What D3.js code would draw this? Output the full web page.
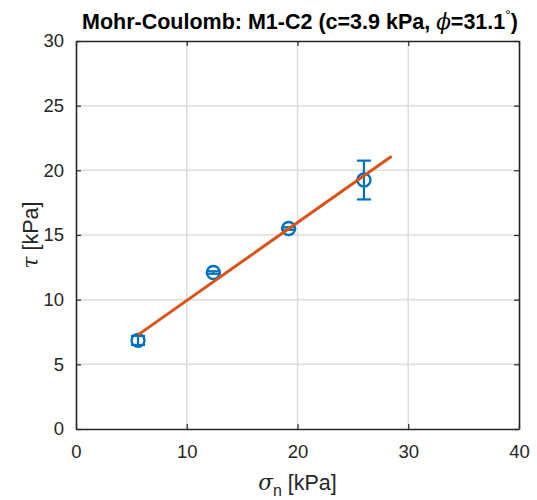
<!DOCTYPE html>
<html>
<head>
<meta charset="utf-8">
<script src="https://cdn.jsdelivr.net/npm/d3@7"></script>
<style>
  body { margin: 0; background: #fff; }
  text { font-family: "Liberation Sans", Arial, sans-serif; }
</style>
</head>
<body>
<div id="vis"></div>
<script>
// measured points
const sigmaN = [5.6, 12.4, 19.2, 26.0];
const tau = [6.85, 12.1, 15.5, 19.25];
const tauErr = [0.35, 0.1, 0.1, 1.5];

// fitted line c + sigma * tan(phi)
const cohesion = 3.9;
const phiDeg = 31.1;
const fitX = [5.6, 28.5];

const xTicks = [0, 10, 20, 30, 40];
const yTicks = [0, 5, 10, 15, 20, 25, 30];

const W = 537, H = 500;
const margin = {top: 41, right: 18, bottom: 71, left: 76};
const width = W - margin.left - margin.right;
const height = H - margin.top - margin.bottom;

const svg = d3.select("#vis").append("svg")
    .attr("width", W)
    .attr("height", H);

const g = svg.append("g").attr("transform", `translate(${margin.left},${margin.top})`);

const x = d3.scaleLinear().domain([0, 40]).range([0, width]);
const y = d3.scaleLinear().domain([0, 30]).range([height, 0]);

// grid
g.append("g").selectAll("line").data(xTicks.slice(1, -1)).join("line")
    .attr("x1", d => x(d)).attr("x2", d => x(d))
    .attr("y1", 0).attr("y2", height)
    .attr("stroke", "#dedede").attr("stroke-width", 1.5);
g.append("g").selectAll("line").data(yTicks.slice(1, -1)).join("line")
    .attr("y1", d => y(d)).attr("y2", d => y(d))
    .attr("x1", 0).attr("x2", width)
    .attr("stroke", "#dedede").attr("stroke-width", 1.5);

// axes with inward ticks
const xAxis = g.append("g").attr("transform", `translate(0,${height})`)
    .call(d3.axisBottom(x).tickValues(xTicks).tickSizeInner(-5).tickSizeOuter(0).tickPadding(16));
const yAxis = g.append("g")
    .call(d3.axisLeft(y).tickValues(yTicks).tickSizeInner(-5).tickSizeOuter(0).tickPadding(12));
const xTop = g.append("g")
    .call(d3.axisTop(x).tickValues(xTicks).tickSizeInner(-5).tickSizeOuter(0).tickFormat(""));
const yRight = g.append("g").attr("transform", `translate(${width},0)`)
    .call(d3.axisRight(y).tickValues(yTicks).tickSizeInner(-5).tickSizeOuter(0).tickFormat(""));

[xAxis, yAxis, xTop, yRight].forEach(a => {
    a.select(".domain").attr("stroke", "#262626").attr("stroke-width", 1.6);
    a.selectAll(".tick line").attr("stroke", "#262626").attr("stroke-width", 1.2);
    a.selectAll(".tick text").attr("fill", "#262626").style("font-size", "18.5px")
        .style("font-family", "'Liberation Sans', Arial, sans-serif");
});
xAxis.selectAll(".tick text").attr("dy", "0.71em");

// error bars
const blue = "#0072BD";
const capW = 7;
const eb = g.append("g").attr("stroke", blue).attr("stroke-width", 2.2);
sigmaN.forEach((s, i) => {
    const lo = tau[i] - tauErr[i], hi = tau[i] + tauErr[i];
    eb.append("line").attr("x1", x(s)).attr("x2", x(s)).attr("y1", y(lo)).attr("y2", y(hi));
    eb.append("line").attr("x1", x(s) - capW).attr("x2", x(s) + capW).attr("y1", y(lo)).attr("y2", y(lo));
    eb.append("line").attr("x1", x(s) - capW).attr("x2", x(s) + capW).attr("y1", y(hi)).attr("y2", y(hi));
});

// markers
g.append("g").selectAll("circle").data(sigmaN).join("circle")
    .attr("cx", d => x(d))
    .attr("cy", (d, i) => y(tau[i]))
    .attr("r", 6.5)
    .attr("fill", "none")
    .attr("stroke", blue)
    .attr("stroke-width", 2.4);

// fit line
const tanPhi = Math.tan(phiDeg * Math.PI / 180);
g.append("path")
    .datum(fitX)
    .attr("d", d3.line().x(d => x(d)).y(d => y(cohesion + d * tanPhi)))
    .attr("fill", "none")
    .attr("stroke", "#D95319")
    .attr("stroke-width", 3);

// title
const title = svg.append("text")
    .attr("x", 300)
    .attr("y", 29)
    .attr("text-anchor", "middle")
    .attr("font-weight", "bold")
    .attr("font-size", 21.5)
    .attr("fill", "#000");
title.append("tspan").text(`Mohr-Coulomb: M1-C2 (c=${cohesion} kPa, `);
title.append("tspan").attr("font-style", "italic").attr("font-weight", "normal")
    .attr("font-family", "'DejaVu Serif', serif").text("\u03D5");
title.append("tspan").text(`=${phiDeg}`);
title.append("tspan").attr("font-size", 14).attr("font-weight", "normal").attr("dy", -9).text("\u00B0");
title.append("tspan").attr("dy", 9).text(")");

// x label
const xl = svg.append("text")
    .attr("x", margin.left + width / 2)
    .attr("y", 490)
    .attr("text-anchor", "middle")
    .attr("font-size", 21.5)
    .attr("fill", "#262626");
xl.append("tspan").attr("font-style", "italic").attr("font-family", "'DejaVu Serif', serif").text("\u03C3");
xl.append("tspan").attr("font-size", 16).attr("dy", 6).text("n");
xl.append("tspan").attr("dy", -6).text(" [kPa]");

// y label
const yl = svg.append("text")
    .attr("transform", `translate(38,${margin.top + height / 2}) rotate(-90)`)
    .attr("text-anchor", "middle")
    .attr("font-size", 21.5)
    .attr("fill", "#262626");
yl.append("tspan").attr("font-style", "italic").attr("font-family", "'DejaVu Serif', serif").text("\u03C4");
yl.append("tspan").text(" [kPa]");
</script>
</body>
</html>
